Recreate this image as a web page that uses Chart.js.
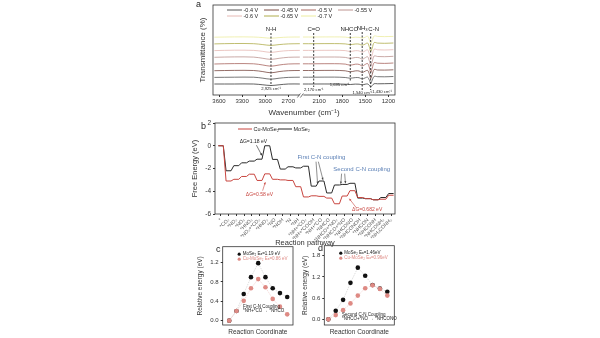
<!DOCTYPE html>
<html>
<head>
<meta charset="utf-8">
<script src="https://cdn.jsdelivr.net/npm/chart.js@4.4.1/dist/chart.umd.min.js"></script>
<style>
  html, body { margin: 0; padding: 0; background: #fff; }
  body { width: 600px; height: 338px; position: relative; overflow: hidden; font-family: 'Liberation Sans', Arial, sans-serif; }
  canvas { position: absolute; }
  .letter { position: absolute; font-size: 9px; color: #222; line-height: 9px; }
</style>
</head>
<body>
<canvas id="chartA" width="225" height="120" style="left:185px;top:0px"></canvas>
<canvas id="chartB" width="225" height="138" style="left:185px;top:112px"></canvas>
<canvas id="chartC" width="110" height="98" style="left:190px;top:240px"></canvas>
<canvas id="chartD" width="115" height="98" style="left:295px;top:240px"></canvas>
<div class="letter" style="left:196px;top:0px">a</div>
<div class="letter" style="left:201px;top:122px">b</div>
<div class="letter" style="left:216px;top:245px">c</div>
<div class="letter" style="left:318px;top:244px">d</div>
<script>
// ---- panel a : in-situ FTIR ----
const waveNumbers = [3660, 3400, 3150, 3030, 2925, 2820, 2700, 2550, 2430, 2310, 2170, 1900, 1760, 1695, 1630, 1580, 1540, 1500, 1470, 1445, 1430, 1410, 1385, 1340, 1250, 1135];
const waveTicks = [3600, 3300, 3000, 2700, 2100, 1800, 1500, 1200];
const potentials = ['', '-0.4 V', '-0.45 V', '-0.5 V', '-0.55 V', '-0.6 V', '-0.65 V', '-0.7 V'];
const ftirBaseline = [11, 11, 11, 10.2, 9.5, 10.2, 11, 11, null, 11, 11, 11, 10.8, 10.5, 10.9, 10.8, 10.2, 10.8, 11, 9.5, 8, 9.5, 11.3, 11.2, 11.3, 11.5];
const ftir04  = [17.6, 17.8, 17.8, 16.8, 15.8, 16.8, 17.6, 17.8, null, 17.8, 17.8, 17.9, 17.5, 16.8, 17.4, 17.3, 16, 17.2, 17.8, 14.5, 11.5, 14.8, 18.6, 18.3, 18.2, 18.5];
const ftir045 = [24.3, 24.6, 24.5, 23.4, 22.2, 23.4, 24.3, 24.5, null, 24.5, 24.5, 24.6, 24.2, 23.2, 24.1, 24, 22.5, 23.9, 24.6, 20.5, 16.5, 20.5, 25.5, 25, 24.9, 25.2];
const ftir05  = [31, 31.4, 31.2, 30, 28.8, 30, 31, 31.2, null, 31.2, 31.2, 31.3, 30.9, 29.8, 30.8, 30.6, 29, 30.6, 31.5, 27, 22.5, 26.8, 32.3, 31.8, 31.6, 32];
const ftir055 = [37.7, 38.1, 37.9, 36.7, 35.6, 36.7, 37.7, 37.9, null, 37.9, 37.9, 38, 37.6, 36.6, 37.5, 37.3, 35.8, 37.3, 38.3, 33.5, 29, 33.4, 39, 38.5, 38.3, 38.7];
const ftir06  = [44.4, 44.8, 44.6, 43.6, 42.6, 43.6, 44.4, 44.6, null, 44.6, 44.6, 44.7, 44.4, 43.5, 44.3, 44.1, 42.8, 44.2, 45.2, 40.5, 36, 40.2, 45.8, 45.2, 45, 45.3];
const ftir065 = [51.1, 51.5, 51.3, 50.4, 49.6, 50.4, 51.1, 51.3, null, 51.3, 51.3, 51.4, 51.1, 50.4, 51, 50.9, 49.8, 51, 52, 47.5, 43.5, 47, 52.4, 51.9, 51.7, 52];
const ftir07  = [57.8, 58.1, 58, 57.4, 56.8, 57.4, 57.9, 58, null, 58, 58, 58.1, 57.9, 57.3, 57.8, 57.7, 57, 57.8, 58.8, 55, 51.5, 54.5, 59, 58.6, 58.4, 58.6];
const ftirColors = ['#3a3a3a', '#555555', '#7a4a42', '#a8665f', '#bd9490', '#e6b9b4', '#b0ad4c', '#ecec9f'];

// ---- panel b : free energy along the pathway ----
const pathwaySteps = ['*', '*CO₂', '*NO₂', '*NO₃', '*HNO₃', '*NO₂+*CO₂', '*HNO₂', '*NO', '*NOH', '*N', '*NH', '*NH+*CO₂', '*NH+*COOH', '*NH+*CO', '*NHCO', '*NHCO+*NO₂', '*NHCO+*NO', '*NHCONO', '*NHCONOH', '*NHCON', '*NHCONH', '*NHCONH₂', '*NH₂CONH₂'];
const energyCuMoSe2 = [0, -3.1, -2.95, -2.7, -2.5, -3.05, -2.47, -2.95, -3.0, -3.05, -3.6, -4.5, -4.4, -4.45, -4.6, -5.1, -4.42, -3.95, -4.55, -4.65, -4.75, -4.7, -4.35];
const energyMoSe2 = [0, -2.2, -1.75, -1.5, -1.35, -1.18, 0, -1.2, -2.05, -1.85, -1.95, -1.8, -3.55, -3.1, -4.15, -3.45, -3.4, -3.3, -4.6, -4.65, -4.75, -4.55, -4.2];

// ---- panels c, d : relative energy along reaction coordinate ----
const coordSteps = [0, 1, 2, 3, 4, 5, 6, 7, 8];
const firstMoSe2 = [0, 0.2, 0.55, 0.9, 1.19, 0.9, 0.67, 0.57, 0.49];
const firstCuMoSe2 = [0, 0.2, 0.41, 0.67, 0.86, 0.69, 0.45, 0.29, 0.13];
const secondMoSe2 = [0, 0.24, 0.55, 1.03, 1.46, 1.23, 0.97, 0.87, 0.78];
const secondCuMoSe2 = [0, 0.12, 0.26, 0.45, 0.67, 0.88, 0.96, 0.86, 0.67];
const firstTicks = [0, 0.4, 0.8, 1.2];
const secondTicks = [0, 0.6, 1.2, 1.8];

const FONT = "'Liberation Sans', Arial, sans-serif";
const RED = '#c8453f';
const PINK = '#de8a84';
const BLUE = '#5a7fb5';

Chart.defaults.font.family = FONT;
Chart.defaults.color = '#333';
Chart.defaults.animation = false;

// the right-hand part of the broken wavenumber axis is shifted by 200
function toAxis(w) {
  return w >= 2400 ? w : w + 200;
}

function arrow(ctx, x1, y1, x2, y2, color) {
  ctx.strokeStyle = color;
  ctx.fillStyle = color;
  ctx.lineWidth = 0.6;
  ctx.beginPath(); ctx.moveTo(x1, y1); ctx.lineTo(x2, y2); ctx.stroke();
  const ang = Math.atan2(y2 - y1, x2 - x1), h = 2.4;
  ctx.beginPath();
  ctx.moveTo(x2, y2);
  ctx.lineTo(x2 - h * Math.cos(ang - 0.45), y2 - h * Math.sin(ang - 0.45));
  ctx.lineTo(x2 - h * Math.cos(ang + 0.45), y2 - h * Math.sin(ang + 0.45));
  ctx.closePath(); ctx.fill();
}

// frame, dashed markers, arrows and notes
const notesPlugin = {
  id: 'notes',
  afterDatasetsDraw(chart, args, o) {
    if (!o || !o.on) return;
    const { ctx, chartArea: a, scales: { x, y } } = chart;
    ctx.save();
    (o.vlines || []).forEach(v => {
      const px = x.getPixelForValue(v.x);
      ctx.setLineDash([2, 1.5]);
      ctx.lineWidth = 0.9;
      ctx.strokeStyle = '#222';
      ctx.beginPath();
      ctx.moveTo(px, y.getPixelForValue(v.y1));
      ctx.lineTo(px, y.getPixelForValue(v.y2));
      ctx.stroke();
    });
    ctx.setLineDash([]);
    (o.arrows || []).forEach(r => {
      arrow(ctx, x.getPixelForValue(r.x1), y.getPixelForValue(r.y1),
                 x.getPixelForValue(r.x2), y.getPixelForValue(r.y2), r.color);
    });
    (o.texts || []).forEach(t => {
      ctx.font = (t.size || 5) + 'px ' + FONT;
      ctx.fillStyle = t.color || '#222';
      ctx.textAlign = t.align || 'center';
      ctx.textBaseline = 'middle';
      ctx.fillText(t.text, x.getPixelForValue(t.x) + (t.dx || 0), y.getPixelForValue(t.y));
    });
    ctx.lineWidth = 0.8;
    ctx.strokeStyle = '#333';
    ctx.strokeRect(a.left, a.top, a.right - a.left, a.bottom - a.top);
    if (o.breakAt !== undefined) {
      const bx = x.getPixelForValue(o.breakAt);
      ctx.fillStyle = '#fff';
      ctx.fillRect(bx - 2, a.bottom - 1.5, 4, 3);
      ctx.lineWidth = 0.7;
      ctx.beginPath();
      ctx.moveTo(bx - 4, a.bottom + 2.5); ctx.lineTo(bx - 1, a.bottom - 1.5);
      ctx.moveTo(bx - 1, a.bottom + 2.5); ctx.lineTo(bx + 2, a.bottom - 1.5);
      ctx.stroke();
    }
    ctx.restore();
  }
};

// small legend drawn inside the plot frame
const keyPlugin = {
  id: 'key',
  afterDatasetsDraw(chart, args, o) {
    if (!o || !o.cols) return;
    const { ctx, chartArea: a } = chart;
    ctx.save();
    ctx.font = o.size + 'px ' + FONT;
    ctx.textBaseline = 'middle';
    ctx.textAlign = 'left';
    let k = 0;
    chart.data.datasets.forEach(ds => {
      if (!ds.label) return;
      const col = k % o.cols, row = Math.floor(k / o.cols);
      k++;
      const x0 = a.left + o.x + col * o.colWidth;
      const yy = a.top + o.y + row * o.rowHeight;
      if (o.marker === 'dot') {
        ctx.fillStyle = ds.pointBackgroundColor;
        ctx.beginPath(); ctx.arc(x0 + 1.5, yy, 1.6, 0, Math.PI * 2); ctx.fill();
        ctx.fillStyle = ds.pointBackgroundColor === '#111' ? '#222' : ds.pointBackgroundColor;
        ctx.fillText(ds.label, x0 + 5, yy);
      } else {
        ctx.strokeStyle = ds.borderColor;
        ctx.lineWidth = 1;
        ctx.beginPath(); ctx.moveTo(x0, yy); ctx.lineTo(x0 + o.lineLen, yy); ctx.stroke();
        ctx.fillStyle = '#222';
        ctx.fillText(ds.label, x0 + o.lineLen + 1.5, yy);
      }
    });
    ctx.restore();
  }
};

Chart.register(notesPlugin, keyPlugin);

function fixWidth(w) { return s => { s.width = w; }; }
function fixHeight(h) { return s => { s.height = h; }; }
function fixTicks(values) { return s => { s.ticks = values.map(v => ({ value: v })); }; }

// ---------- a ----------
const ftirSeries = [ftirBaseline, ftir04, ftir045, ftir05, ftir055, ftir06, ftir065, ftir07];
new Chart(document.getElementById('chartA'), {
  type: 'line',
  data: {
    datasets: ftirSeries.map((vals, s) => ({
      label: potentials[s],
      data: waveNumbers.map((w, i) => ({ x: toAxis(w), y: vals[i] })),
      borderColor: ftirColors[s],
      borderWidth: 0.8,
      pointRadius: 0,
      tension: 0.35,
      spanGaps: false
    }))
  },
  options: {
    responsive: false,
    devicePixelRatio: 1,
    layout: { padding: { top: 5, right: 15, left: 0, bottom: 0 } },
    plugins: {
      legend: { display: false },
      tooltip: { enabled: false },
      key: { cols: 4, colWidth: 37, x: 14, y: 5, rowHeight: 6, size: 5.5, lineLen: 15 },
      notes: {
        on: true,
        breakAt: 2530,
        vlines: [
          { x: toAxis(2925), y1: 62, y2: 9 },
          { x: toAxis(2170), y1: 62, y2: 8 },
          { x: toAxis(1695), y1: 62, y2: 13 },
          { x: toAxis(1540), y1: 63, y2: 5 },
          { x: toAxis(1430), y1: 62, y2: 5 }
        ],
        texts: [
          { x: toAxis(2925), y: 66, text: 'N-H', size: 6 },
          { x: toAxis(2170), y: 66, text: 'C=O', size: 6 },
          { x: toAxis(1695), y: 65.5, text: 'NHCO', size: 6, dx: -1 },
          { x: toAxis(1540), y: 67, text: 'NH₃', size: 6 },
          { x: toAxis(1430), y: 66, text: 'C-N', size: 6, dx: 3 },
          { x: toAxis(2925), y: 6, text: '2,925 cm⁻¹', size: 4.2 },
          { x: toAxis(2170), y: 5, text: '2,170 cm⁻¹', size: 4.2 },
          { x: toAxis(1695), y: 10, text: '1,695 cm⁻¹', size: 4.2, align: 'right', dx: -1 },
          { x: toAxis(1540), y: 2, text: '1,540 cm⁻¹', size: 4.2 },
          { x: toAxis(1430), y: 3, text: '1,430 cm⁻¹', size: 4.2, align: 'left', dx: 1.5 }
        ]
      }
    },
    scales: {
      x: {
        type: 'linear',
        reverse: true,
        min: 1314,
        max: 3678,
        afterBuildTicks: s => { s.ticks = waveTicks.map(w => ({ value: toAxis(w) })); },
        afterFit: fixHeight(25),
        ticks: { font: { size: 6 }, padding: 1, maxRotation: 0, callback: (v, i) => waveTicks[i] },
        grid: { display: true, drawOnChartArea: false, tickLength: 2, color: '#333' },
        border: { display: false },
        title: { display: true, text: 'Wavenumber (cm⁻¹)', font: { size: 8 }, padding: { top: 0, bottom: 2 } }
      },
      y: {
        type: 'linear',
        min: 0,
        max: 90,
        afterFit: fixWidth(28),
        ticks: { display: false },
        grid: { display: false },
        border: { display: false },
        title: { display: true, text: 'Transmittance (%)', font: { size: 8 }, padding: { top: 13, bottom: 0 } }
      }
    }
  }
});

// ---------- b ----------
function steps(vals) {
  const pts = [];
  vals.forEach((e, i) => { pts.push({ x: i - 0.32, y: e }, { x: i + 0.32, y: e }); });
  return pts;
}
new Chart(document.getElementById('chartB'), {
  type: 'line',
  data: {
    datasets: [
      { label: 'Cu-MoSe₂', data: steps(energyCuMoSe2), borderColor: RED, borderWidth: 1, pointRadius: 0 },
      { label: 'MoSe₂', data: steps(energyMoSe2), borderColor: '#2a2a2a', borderWidth: 1, pointRadius: 0 }
    ]
  },
  options: {
    responsive: false,
    devicePixelRatio: 1,
    layout: { padding: { top: 11, right: 15, left: 0, bottom: 0 } },
    plugins: {
      legend: { display: false },
      tooltip: { enabled: false },
      key: { cols: 2, colWidth: 40, x: 23, y: 6, rowHeight: 6, size: 5.5, lineLen: 14 },
      notes: {
        on: true,
        texts: [
          { x: 4.2, y: 0.4, text: 'ΔG=1.18 eV', size: 5 },
          { x: 5.0, y: -4.3, text: 'ΔG=0.58 eV', size: 5, color: RED },
          { x: 13.0, y: -1.05, text: 'First C-N coupling', size: 6, color: BLUE },
          { x: 18.2, y: -2.1, text: 'Second C-N coupling', size: 6, color: BLUE },
          { x: 18.9, y: -5.6, text: 'ΔG=0.682 eV', size: 5, color: RED }
        ],
        arrows: [
          { x1: 4.6, y1: 0.05, x2: 5.3, y2: -0.85, color: '#222' },
          { x1: 5.4, y1: -3.95, x2: 5.75, y2: -3.2, color: RED },
          { x1: 12.3, y1: -1.4, x2: 12.5, y2: -3.35, color: '#444' },
          { x1: 12.6, y1: -1.4, x2: 13.2, y2: -3.0, color: '#444' },
          { x1: 15.6, y1: -2.45, x2: 15.5, y2: -3.35, color: '#444' },
          { x1: 16.0, y1: -2.45, x2: 16.1, y2: -3.3, color: '#444' },
          { x1: 17.5, y1: -5.45, x2: 16.6, y2: -4.65, color: RED }
        ]
      }
    },
    scales: {
      x: {
        type: 'linear',
        min: -0.75,
        max: 22.5,
        afterBuildTicks: fixTicks(pathwaySteps.map((_, i) => i)),
        afterFit: fixHeight(36),
        ticks: { font: { size: 5 }, color: '#555', autoSkip: false, minRotation: 45, maxRotation: 45, padding: 1, callback: v => pathwaySteps[v] },
        grid: { display: true, drawOnChartArea: false, tickLength: 2, color: '#333' },
        border: { display: false },
        title: { display: true, text: 'Reaction pathway', font: { size: 7.5 }, padding: { top: 0, bottom: 3 } }
      },
      y: {
        type: 'linear',
        min: -6,
        max: 2,
        afterBuildTicks: fixTicks([-6, -4, -2, 0, 2]),
        afterFit: fixWidth(30),
        ticks: { font: { size: 6.5 }, padding: 2 },
        grid: { display: true, drawOnChartArea: false, tickLength: 2, color: '#333' },
        border: { display: false },
        title: { display: true, text: 'Free Energy (eV)', font: { size: 7.5 }, padding: { top: 5, bottom: 0 } }
      }
    }
  }
});

// ---------- c, d ----------
function coordChart(id, mo, cu, labels, ticks, yMin, yMax, xMin, xMax, axisW, pad, notes) {
  new Chart(document.getElementById(id), {
    type: 'line',
    data: {
      datasets: [
        { label: labels[0], data: coordSteps.map((c, i) => ({ x: c, y: mo[i] })), order: 1,
          borderColor: '#c8c8c8', borderWidth: 0.6, borderDash: [1.5, 1],
          pointRadius: 2.3, pointBorderWidth: 0, pointBackgroundColor: '#111' },
        { label: labels[1], data: coordSteps.map((c, i) => ({ x: c, y: cu[i] })), order: 0,
          borderColor: '#efc3bf', borderWidth: 0.6, borderDash: [1.5, 1],
          pointRadius: 2.3, pointBorderWidth: 0, pointBackgroundColor: PINK }
      ]
    },
    options: {
      responsive: false,
      devicePixelRatio: 1,
      layout: { padding: pad },
      plugins: {
        legend: { display: false },
        tooltip: { enabled: false },
        key: { cols: 1, colWidth: 0, x: 15, y: 7.5, rowHeight: 5, size: 4.5, marker: 'dot' },
        notes: { on: true, texts: notes }
      },
      scales: {
        x: {
          type: 'linear', min: xMin, max: xMax,
          afterFit: fixHeight(13),
          ticks: { display: false },
          grid: { display: false },
          border: { display: false },
          title: { display: true, text: 'Reaction Coordinate', font: { size: 6.5 }, padding: { top: 0, bottom: 2 } }
        },
        y: {
          type: 'linear', min: yMin, max: yMax,
          afterBuildTicks: fixTicks(ticks),
          afterFit: fixWidth(axisW),
          ticks: { font: { size: 6 }, padding: 2, callback: v => v.toFixed(1) },
          grid: { display: true, drawOnChartArea: false, tickLength: 2, color: '#333' },
          border: { display: false },
          title: { display: true, text: 'Relative energy (eV)', font: { size: 6.5 }, padding: { top: 6, bottom: 0 } }
        }
      }
    }
  });
}

coordChart('chartC', firstMoSe2, firstCuMoSe2,
  ['MoSe₂ Eₐ=1.19 eV', 'Cu-MoSe₂ Eₐ=0.86 eV'], firstTicks, -0.09, 1.53, -0.9, 8.8, 32.7,
  { top: 6.7, right: 7, left: 0, bottom: 0 },
  [
    { x: 1.9, y: 0.29, text: 'First C-N Coupling', align: 'left', size: 4.5 },
    { x: 1.9, y: 0.21, text: '*NH+*CO → *NHCO', align: 'left', size: 4.5 }
  ]);

coordChart('chartD', secondMoSe2, secondCuMoSe2,
  ['MoSe₂ Eₐ=1.46eV', 'Cu-MoSe₂ Eₐ=0.96eV'], secondTicks, -0.16, 2.08, -0.55, 8.95, 29.3,
  { top: 5.7, right: 15.7, left: 0, bottom: 0 },
  [
    { x: 1.85, y: 0.12, text: 'Second C-N Coupling', align: 'left', size: 4.5 },
    { x: 1.85, y: 0.02, text: '*NHCO+*NO → *NHCONO', align: 'left', size: 4.5 }
  ]);
</script>
</body>
</html>
